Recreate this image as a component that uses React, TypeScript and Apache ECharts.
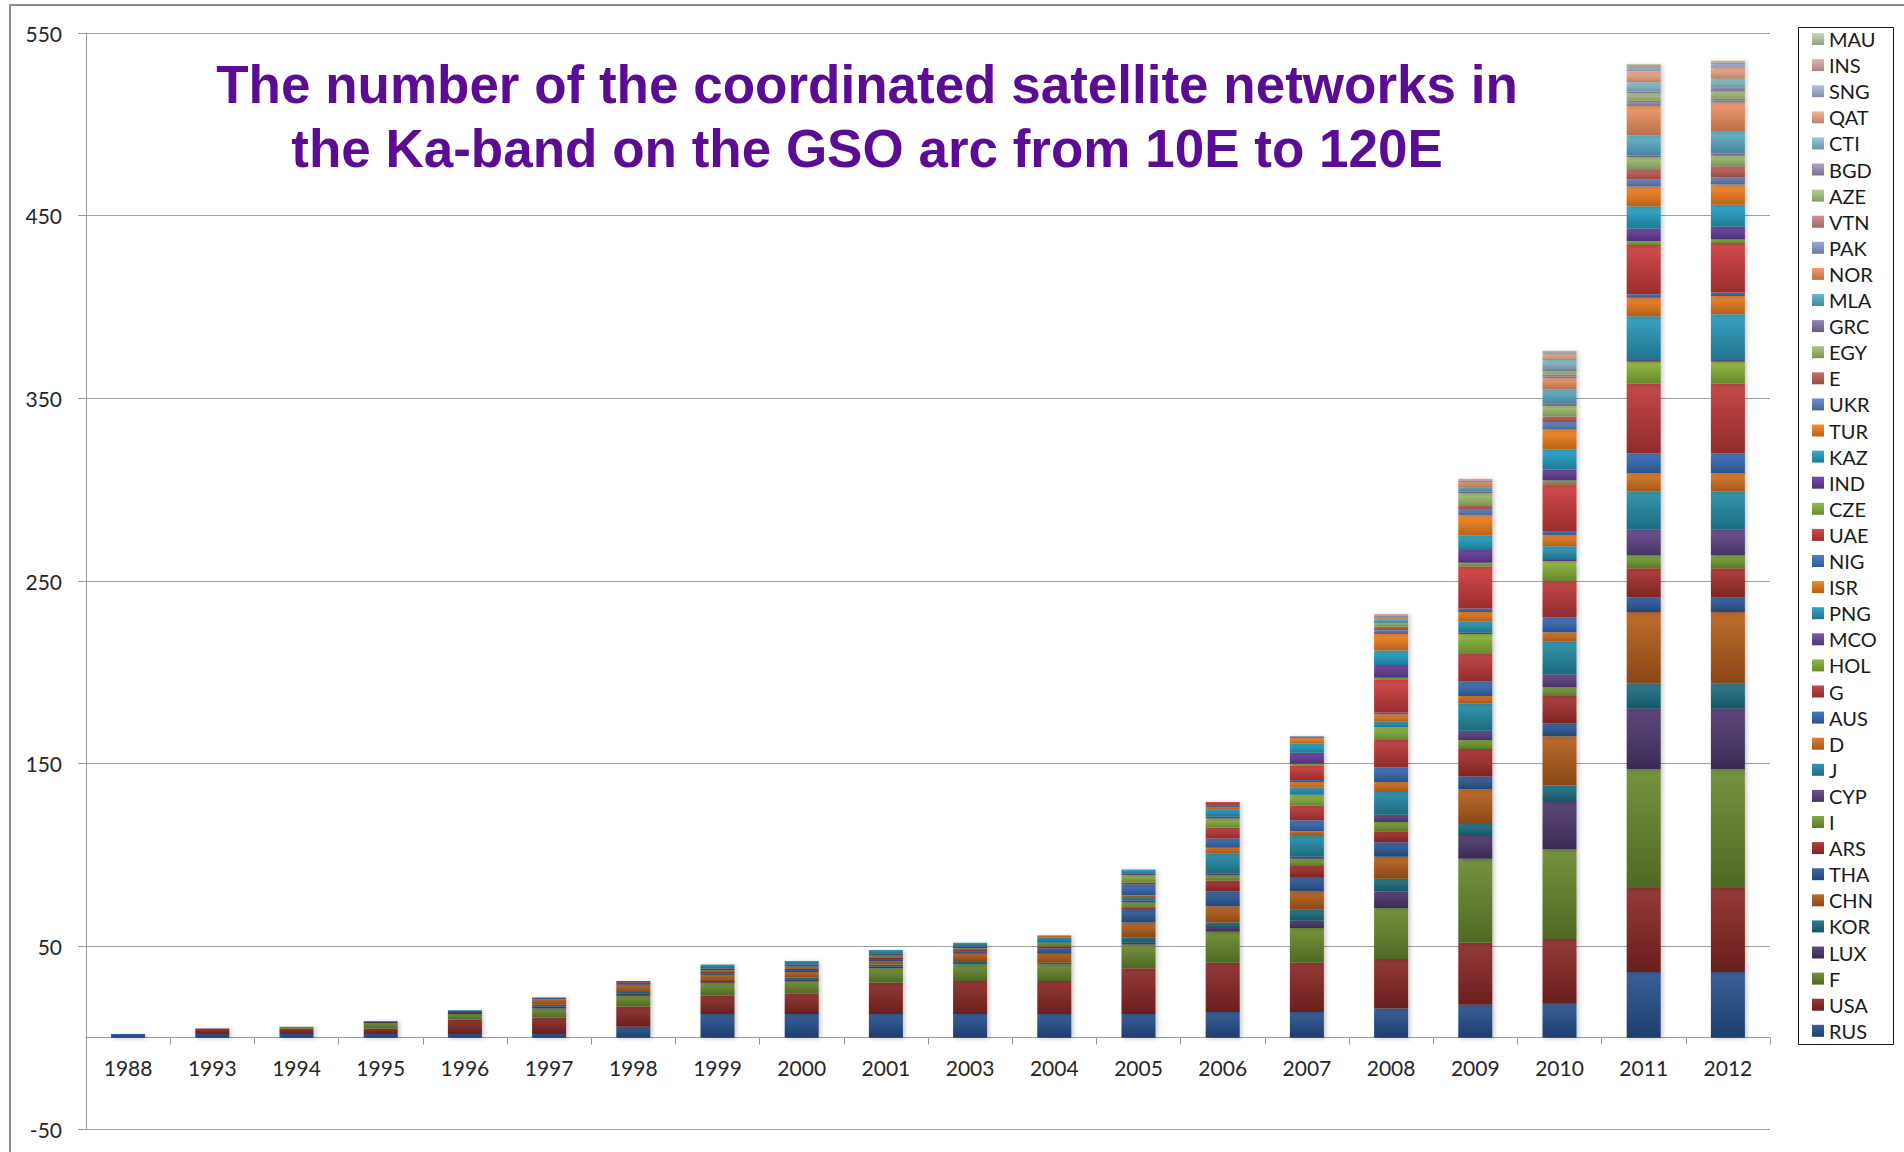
import React, { useEffect, useRef } from "react";
import * as echarts from "echarts";

// Filing years shown on the category axis
const years = [
  "1988", "1993", "1994", "1995", "1996", "1997", "1998", "1999", "2000", "2001",
  "2003", "2004", "2005", "2006", "2007", "2008", "2009", "2010", "2011", "2012",
];

// Coordinated Ka-band networks per administration, one value per year above
const RUS = [2, 2, 2, 2, 2, 2, 6, 13, 13, 13, 13, 13, 13, 14, 14, 16, 18, 19, 36, 36];
const USA = [0, 3, 3, 3, 8, 9, 11, 10, 11, 17, 18, 18, 25, 27, 27, 27, 34, 35, 46, 46];
const F = [0, 0, 1, 3, 3, 5, 6, 7, 7, 8, 9, 9, 13, 17, 19, 28, 46, 49, 65, 65];
const LUX = [0, 0, 0, 1, 1, 1, 1, 1, 1, 1, 0, 0, 1, 2, 4, 9, 13, 26, 33, 33];
const KOR = [0, 0, 0, 0, 1, 1, 1, 0, 1, 1, 2, 1, 3, 3, 6, 7, 6, 9, 14, 14];
const CHN = [0, 0, 0, 0, 0, 3, 4, 3, 3, 2, 4, 5, 8, 9, 10, 12, 19, 27, 39, 39];
const THA = [0, 0, 0, 0, 0, 1, 1, 1, 1, 1, 1, 3, 7, 8, 8, 8, 7, 7, 8, 8];
const ARS = [0, 0, 0, 0, 0, 0, 1, 1, 1, 1, 1, 1, 1, 6, 6, 6, 15, 15, 16, 16];
const I = [0, 0, 0, 0, 0, 0, 0, 1, 1, 1, 1, 2, 3, 3, 4, 5, 5, 5, 7, 7];
const CYP = [0, 0, 0, 0, 0, 0, 0, 1, 1, 1, 1, 0, 1, 1, 1, 4, 5, 7, 14, 14];
const J = [0, 0, 0, 0, 0, 0, 0, 2, 2, 2, 2, 3, 2, 11, 12, 13, 15, 18, 21, 21];
const D = [0, 0, 0, 0, 0, 0, 0, 0, 0, 0, 0, 1, 1, 3, 2, 5, 4, 5, 10, 10];
const AUS = [0, 0, 0, 0, 0, 0, 0, 0, 0, 0, 0, 0, 6, 5, 6, 8, 8, 8, 11, 11];
const G = [0, 0, 0, 0, 0, 0, 0, 0, 0, 0, 0, 0, 1, 6, 8, 15, 15, 20, 38, 38];
const HOL = [0, 0, 0, 0, 0, 0, 0, 0, 0, 0, 0, 0, 4, 5, 6, 7, 11, 11, 12, 12];
const MCO = [0, 0, 0, 0, 0, 0, 0, 0, 0, 0, 0, 0, 1, 1, 0, 0, 1, 1, 1, 1];
const PNG = [0, 0, 0, 0, 0, 0, 0, 0, 0, 0, 0, 0, 2, 4, 4, 3, 6, 7, 24, 25];
const ISR = [0, 0, 0, 0, 0, 0, 0, 0, 0, 0, 0, 0, 0, 1, 3, 4, 5, 6, 10, 10];
const NIG = [0, 0, 0, 0, 0, 0, 0, 0, 0, 0, 0, 0, 0, 1, 1, 1, 2, 2, 2, 2];
const UAE = [0, 0, 0, 0, 0, 0, 0, 0, 0, 0, 0, 0, 0, 2, 8, 18, 23, 26, 27, 27];
const CZE = [0, 0, 0, 0, 0, 0, 0, 0, 0, 0, 0, 0, 0, 0, 1, 1, 2, 2, 2, 2];
const IND = [0, 0, 0, 0, 0, 0, 0, 0, 0, 0, 0, 0, 0, 0, 6, 7, 7, 6, 7, 7];
const KAZ = [0, 0, 0, 0, 0, 0, 0, 0, 0, 0, 0, 0, 0, 0, 5, 8, 8, 11, 12, 12];
const TUR = [0, 0, 0, 0, 0, 0, 0, 0, 0, 0, 0, 0, 0, 0, 3, 9, 11, 11, 11, 11];
const UKR = [0, 0, 0, 0, 0, 0, 0, 0, 0, 0, 0, 0, 0, 0, 1, 2, 3, 4, 4, 4];
const E = [0, 0, 0, 0, 0, 0, 0, 0, 0, 0, 0, 0, 0, 0, 0, 2, 2, 3, 5, 6];
const EGY = [0, 0, 0, 0, 0, 0, 0, 0, 0, 0, 0, 0, 0, 0, 0, 2, 7, 6, 7, 6];
const GRC = [0, 0, 0, 0, 0, 0, 0, 0, 0, 0, 0, 0, 0, 0, 0, 0, 1, 1, 1, 1];
const MLA = [0, 0, 0, 0, 0, 0, 0, 0, 0, 0, 0, 0, 0, 0, 0, 2, 2, 8, 11, 12];
const NOR = [0, 0, 0, 0, 0, 0, 0, 0, 0, 0, 0, 0, 0, 0, 0, 1, 3, 6, 16, 16];
const PAK = [0, 0, 0, 0, 0, 0, 0, 0, 0, 0, 0, 0, 0, 0, 0, 1, 1, 1, 2, 1];
const VTN = [0, 0, 0, 0, 0, 0, 0, 0, 0, 0, 0, 0, 0, 0, 0, 0, 0, 1, 1, 1];
const AZE = [0, 0, 0, 0, 0, 0, 0, 0, 0, 0, 0, 0, 0, 0, 0, 0, 0, 2, 4, 4];
const BGD = [0, 0, 0, 0, 0, 0, 0, 0, 0, 0, 0, 0, 0, 0, 0, 0, 0, 1, 1, 2];
const CTI = [0, 0, 0, 0, 0, 0, 0, 0, 0, 0, 0, 0, 0, 0, 0, 0, 0, 5, 5, 5];
const QAT = [0, 0, 0, 0, 0, 0, 0, 0, 0, 0, 0, 0, 0, 0, 0, 1, 1, 3, 6, 6];
const SNG = [0, 0, 0, 0, 0, 0, 0, 0, 0, 0, 0, 0, 0, 0, 0, 0, 0, 1, 2, 2];
const INS = [0, 0, 0, 0, 0, 0, 0, 0, 0, 0, 0, 0, 0, 0, 0, 0, 0, 1, 1, 1];
const MAU = [0, 0, 0, 0, 0, 0, 0, 0, 0, 0, 0, 0, 0, 0, 0, 0, 0, 0, 1, 1];

// Stacking order, bottom to top
const seriesNames = [
  "RUS", "USA", "F", "LUX", "KOR", "CHN", "THA", "ARS", "I", "CYP", "J", "D", "AUS",
  "G", "HOL", "MCO", "PNG", "ISR", "NIG", "UAE", "CZE", "IND", "KAZ", "TUR", "UKR",
  "E", "EGY", "GRC", "MLA", "NOR", "PAK", "VTN", "AZE", "BGD", "CTI", "QAT", "SNG",
  "INS", "MAU",
];
const seriesValues = [
  RUS, USA, F, LUX, KOR, CHN, THA, ARS, I, CYP, J, D, AUS, G, HOL, MCO, PNG, ISR, NIG,
  UAE, CZE, IND, KAZ, TUR, UKR, E, EGY, GRC, MLA, NOR, PAK, VTN, AZE, BGD, CTI, QAT,
  SNG, INS, MAU,
];

// Office-style palette: six accent hues cycling from dark to light shades
const seriesColors = [
  "#285390", "#8c2927", "#6a8a2e", "#4f3870", "#1f7186", "#b8601c",
  "#2f5e9f", "#a8302e", "#78a235", "#614489", "#258ea8", "#db7422",
  "#3a6db8", "#c0393a", "#8ab53a", "#704a9f", "#2a9bbd", "#ee7e1e",
  "#3f77c7", "#cf3c3c", "#8cb83b", "#6a3fa0", "#26a4c8", "#f68420",
  "#6387c6", "#c8625f", "#a2c272", "#8c78b3", "#5fb2ca", "#f29563",
  "#8ca5d2", "#ce8a89", "#b0cc8c", "#a798c2", "#8fc6d8", "#f6b08c",
  "#afbeda", "#ddb0b0", "#c3d6b0",
];

const yMin = -50;
const yMax = 550;
const yStep = 100;

const titleLines = [
  "The number of the coordinated satellite networks in",
  "the Ka-band on the GSO arc from 10E to 120E",
];

const UI_FONT = "Lato, 'Open Sans', sans-serif";

// Plot rectangle in page pixels
const PLOT_LEFT = 86;
const PLOT_TOP = 33;
const PLOT_W = 1684;
const PLOT_H = 1096;

function hexToRgb(hex: string): [number, number, number] {
  const h = hex.replace("#", "");
  return [parseInt(h.slice(0, 2), 16), parseInt(h.slice(2, 4), 16), parseInt(h.slice(4, 6), 16)];
}

function mix(hex: string, target: number, t: number): string {
  const [r, g, b] = hexToRgb(hex);
  const f = (c: number) => Math.round(c + (target - c) * t);
  return `rgb(${f(r)},${f(g)},${f(b)})`;
}

function barFill(hex: string) {
  return new echarts.graphic.LinearGradient(0, 0, 0, 1, [
    { offset: 0, color: mix(hex, 255, 0.08) },
    { offset: 1, color: mix(hex, 0, 0.25) },
  ]);
}

export default function App() {
  const ref = useRef<HTMLDivElement>(null);

  useEffect(() => {
    if (!ref.current) return;
    const chart = echarts.init(ref.current, undefined, { renderer: "svg" });

    // the category axis sits on the zero line: shift it up from the plot bottom
    const zeroOffset = -((0 - yMin) / (yMax - yMin)) * PLOT_H;

    const series = seriesNames.map((name, i) => ({
      name,
      type: "bar" as const,
      stack: "total",
      barWidth: 34,
      // empty segments are left out so they cast no shadow
      data: seriesValues[i].map((v) => (v === 0 ? "-" : v)),
      itemStyle: {
        color: barFill(seriesColors[i]),
        shadowColor: "rgba(0,0,0,0.22)",
        shadowBlur: 4,
        shadowOffsetX: 2,
        shadowOffsetY: 1,
      },
      emphasis: { disabled: true },
    }));

    chart.setOption({
      animation: false,
      backgroundColor: "#ffffff",
      color: seriesColors,
      grid: {
        left: PLOT_LEFT,
        top: PLOT_TOP,
        width: PLOT_W,
        height: PLOT_H,
        containLabel: false,
        outerBoundsMode: "none",
      },
      xAxis: {
        type: "category",
        data: years,
        position: "bottom",
        offset: zeroOffset,
        axisLine: { onZero: false, lineStyle: { color: "#9a9a9a", width: 1 } },
        axisTick: { show: true, length: 7, interval: 0, lineStyle: { color: "#9a9a9a" } },
        axisLabel: {
          interval: 0,
          margin: 19,
          fontSize: 21,
          color: "#262626",
          fontFamily: UI_FONT,
        },
      },
      yAxis: {
        type: "value",
        min: yMin,
        max: yMax,
        interval: yStep,
        axisLine: { show: true, lineStyle: { color: "#9a9a9a", width: 1 } },
        axisTick: { show: true, length: 8, lineStyle: { color: "#9a9a9a" } },
        axisLabel: { margin: 24, fontSize: 21, color: "#262626", fontFamily: UI_FONT },
        splitLine: { show: true, lineStyle: { color: "#a0a0a0", width: 1 } },
      },
      legend: {
        orient: "vertical",
        left: 1798,
        top: 27,
        data: [...seriesNames].reverse(),
        icon: "rect",
        itemWidth: 12,
        itemHeight: 12,
        itemGap: 6.1,
        padding: [2, 8, 3, 14],
        selectedMode: false,
        itemStyle: { shadowBlur: 0, shadowOffsetX: 0, shadowOffsetY: 0 },
        textStyle: { fontSize: 20, lineHeight: 20, color: "#1a1a1a", fontFamily: UI_FONT },
      },
      graphic: [
        {
          type: "rect",
          shape: { x: 10, y: 5, width: 1920, height: 1170 },
          style: { fill: "none", stroke: "#8c8c8c", lineWidth: 2 },
          silent: true,
        },
        {
          type: "rect",
          shape: { x: 1798.5, y: 27.5, width: 95, height: 1017 },
          style: { fill: "none", stroke: "#1a1a1a", lineWidth: 1 },
          silent: true,
        },
        ...titleLines.map((line, k) => ({
          type: "text",
          x: 867,
          y: 84 + k * 64,
          style: {
            text: line,
            fill: "#5c0c94",
            font: "bold 53px 'Liberation Sans', Arial, sans-serif",
            textAlign: "center",
            textVerticalAlign: "middle",
          },
          silent: true,
        })),
      ],
      series,
    });

    return () => chart.dispose();
  }, []);

  return (
    <div
      ref={ref}
      style={{ position: "absolute", left: 0, top: 0, width: 1904, height: 1152 }}
    />
  );
}
